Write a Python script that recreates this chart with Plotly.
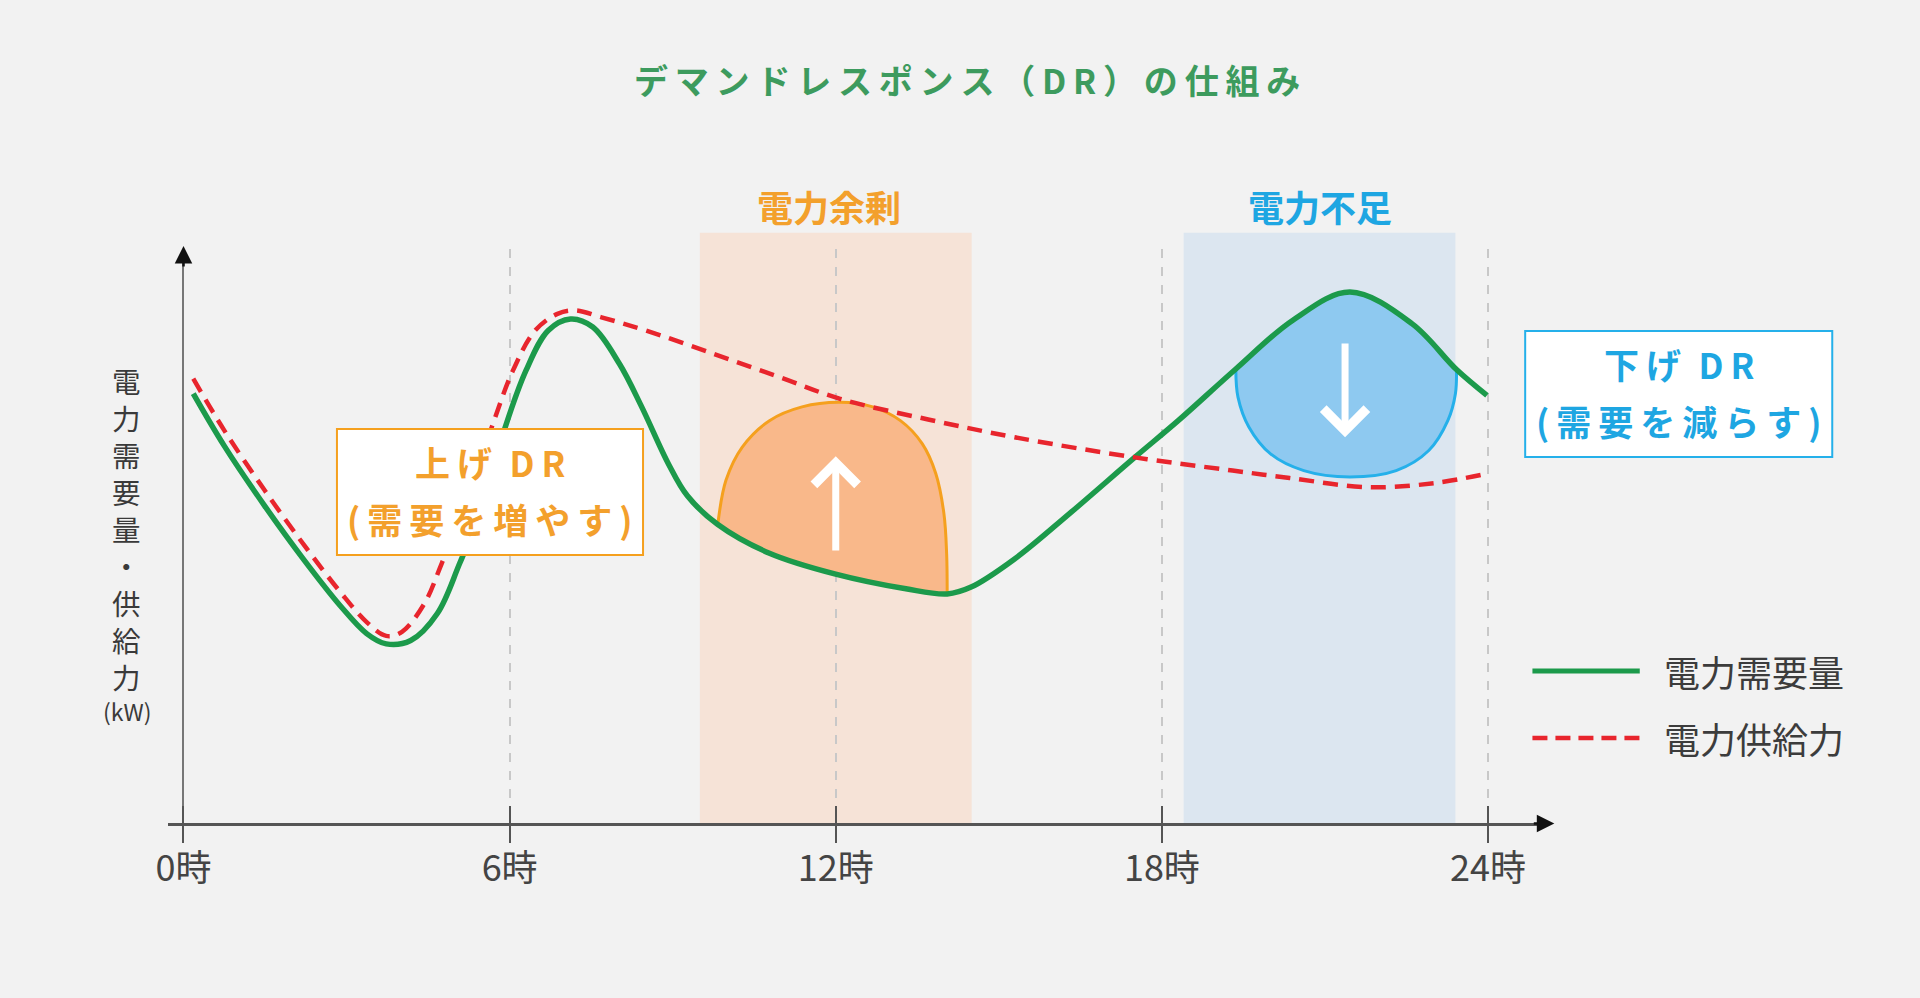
import plotly.graph_objects as go

W, H = 1920, 998
FONT = "Noto Sans CJK JP"

# ---------------- data ----------------
demand_hours = [0.18, 0.75, 1.49, 2.22, 2.88, 3.37, 3.73, 4.18, 4.67, 5.08, 5.49, 5.90, 6.30, 6.71,
                7.12, 7.53, 8.02, 8.43, 8.92, 9.27, 9.83, 10.78, 11.98, 13.29, 14.05, 14.49, 15.29,
                16.30, 17.50, 18.30, 19.36, 20.41, 21.46, 22.60, 23.42, 23.98]
demand = [74.8, 65.7, 55.3, 45.8, 37.9, 33.0, 31.2, 31.8, 36.5, 45.2, 55.0, 68.4, 78.8, 85.8,
          87.8, 86.4, 80.0, 72.5, 62.6, 57.0, 52.0, 47.0, 43.4, 40.8, 39.9, 41.1, 46.0,
          53.9, 63.7, 70.1, 79.1, 87.6, 92.5, 87.0, 79.0, 74.5]

supply_hours = [0.18, 0.75, 1.49, 2.22, 2.88, 3.37, 3.73, 4.02, 4.43, 4.75, 5.16, 5.65, 6.06, 6.47,
                6.88, 7.20, 7.69, 8.51, 9.73, 10.96, 12.08, 13.70, 15.29, 17.50, 19.30, 20.35,
                21.81, 23.00, 24.00]
supply = [77.4, 68.4, 58.0, 48.4, 40.3, 35.0, 32.6, 33.3, 38.2, 45.2, 55.0, 68.4, 78.8, 85.8,
          88.7, 89.3, 88.1, 85.8, 81.8, 77.7, 73.9, 70.3, 67.2, 63.7, 61.4, 60.1,
          58.5, 59.2, 60.9]

# upward DR (raise demand) dome, drawn above the demand curve
raise_dr_hours = [9.83, 9.98, 10.28, 10.78, 11.38, 12.08, 12.68, 13.19, 13.59, 13.84, 13.99, 14.04, 14.05]
raise_dr_values = [52.0, 59.7, 65.5, 70.1, 72.5, 73.3, 72.5, 70.1, 66.1, 60.9, 53.9, 46.9, 39.9]

# downward DR (reduce demand) bowl, drawn below the demand curve
lower_dr_hours = [19.36, 19.40, 19.60, 20.00, 20.61, 21.46, 22.31, 22.91, 23.26, 23.40, 23.42]
lower_dr_values = [79.1, 74.2, 69.0, 64.3, 61.4, 60.3, 61.4, 64.9, 70.1, 74.8, 79.0]

surplus_band = [9.5, 14.5]
shortage_band = [18.4, 23.4]

tick_vals = [0, 6, 12, 18, 24]
tick_text = ["0時", "6時", "12時", "18時", "24時"]

raise_arrow = {"x": 12.0, "tail": 47.2, "tip": 63.9}
lower_arrow = {"x": 21.37, "tail": 83.8, "tip": 67.2}

title_text = "デマンドレスポンス（DR）の仕組み"
y_label = "電力需要量・供給力"
y_unit = "(kW)"
legend_names = ["電力需要量", "電力供給力"]

# ---------------- colours ----------------
BG = "#f2f2f2"
GREEN = "#1c9a4b"
RED = "#e8252d"
ORANGE_BAND = "#f6e3d7"
BLUE_BAND = "#dce6f0"
ORANGE_FILL = "#f9b88a"
ORANGE_LINE = "#f5a01e"
ORANGE_TEXT = "#f3a02c"
BLUE_FILL = "#8ec9f0"
BLUE_LINE = "#25b0ea"
BLUE_TEXT = "#1ea6e2"
TITLE_GREEN = "#3d9b5e"

THIN = "\u2009"


def px(x):
    return x / W


def py(y):
    return 1 - y / H


def spaced(s, sep=THIN):
    return sep.join(s)


def segment(hours, values, lo, hi):
    pts = [(h, v) for h, v in zip(hours, values) if lo - 1e-9 <= h <= hi + 1e-9]
    return [p[0] for p in pts], [p[1] for p in pts]


fig = go.Figure()

# orange cap (raise demand)
bx, by = segment(demand_hours, demand, raise_dr_hours[0], raise_dr_hours[-1])
fig.add_trace(go.Scatter(x=bx, y=by, mode="lines", line=dict(width=0, shape="spline", color=ORANGE_FILL),
                         hoverinfo="skip", showlegend=False))
fig.add_trace(go.Scatter(x=raise_dr_hours, y=raise_dr_values, mode="lines", fill="tonexty",
                         fillcolor=ORANGE_FILL, line=dict(color=ORANGE_LINE, width=3, shape="spline"),
                         hoverinfo="skip", showlegend=False))

# blue cap (reduce demand)
tx, ty = segment(demand_hours, demand, lower_dr_hours[0], lower_dr_hours[-1])
fig.add_trace(go.Scatter(x=tx, y=ty, mode="lines", line=dict(width=0, shape="spline", color=BLUE_FILL),
                         hoverinfo="skip", showlegend=False))
fig.add_trace(go.Scatter(x=lower_dr_hours, y=lower_dr_values, mode="lines", fill="tonexty",
                         fillcolor=BLUE_FILL, line=dict(color=BLUE_LINE, width=3, shape="spline"),
                         hoverinfo="skip", showlegend=False))

# supply (dashed)
fig.add_trace(go.Scatter(x=supply_hours, y=supply, mode="lines", name=legend_names[1], xaxis="x2",
                         line=dict(color=RED, width=4.5, dash="15px,9px", shape="spline"),
                         showlegend=False))
# demand
fig.add_trace(go.Scatter(x=demand_hours, y=demand, mode="lines", name=legend_names[0],
                         line=dict(color=GREEN, width=5.5, shape="spline"), showlegend=False))

X0, X1 = 156.7, 1540
xrange = [-0.29, 25.0]

shapes = []
for band, col in ((surplus_band, ORANGE_BAND), (shortage_band, BLUE_BAND)):
    shapes.append(dict(type="rect", xref="x", yref="paper", x0=band[0], x1=band[1],
                       y0=py(826), y1=py(232.7), fillcolor=col, line=dict(width=0), layer="between"))

# text boxes
boxes = [
    dict(x0=327, x1=635, y0=429, y1=555, color=ORANGE_LINE, text=ORANGE_TEXT,
         lines=[spaced("上げ") + "\u2002" + spaced("DR"), spaced("(需要を増やす)")]),
    dict(x0=1522.7, x1=1831.7, y0=331, y1=457, color=BLUE_LINE, text=BLUE_TEXT,
         lines=[spaced("下げ") + "\u2002" + spaced("DR"), spaced("(需要を減らす)")]),
]
annotations = []
for b in boxes:
    shapes.append(dict(type="rect", xref="paper", yref="paper", x0=px(b["x0"]), x1=px(b["x1"]),
                       y0=py(b["y1"]), y1=py(b["y0"]), fillcolor="white",
                       line=dict(color=b["color"], width=2), layer="above"))
    cx = (b["x0"] + b["x1"]) / 2
    for txt, dy in zip(b["lines"], (32, 89)):
        annotations.append(dict(x=px(cx), y=py(b["y0"] + dy), xref="paper", yref="paper",
                                text=txt, showarrow=False, xanchor="center", yanchor="middle",
                                font=dict(family=FONT, size=35, color=b["text"], weight=700)))

# legend (manual)
for name, yy, col, dash in ((legend_names[0], 671, GREEN, "solid"), (legend_names[1], 738, RED, "15px,8px")):
    shapes.append(dict(type="line", xref="paper", yref="paper", x0=px(1530), x1=px(1638),
                       y0=py(yy), y1=py(yy), line=dict(color=col, width=5 if dash == "solid" else 4.5, dash=dash)))
    annotations.append(dict(x=px(1660), y=py(yy), xref="paper", yref="paper", text=name,
                            showarrow=False, xanchor="left", yanchor="middle",
                            font=dict(family=FONT, size=36, color="#3c3c3c")))

# title
annotations.append(dict(x=px(961.5), y=py(80), xref="paper", yref="paper", text=spaced(title_text),
                        showarrow=False, xanchor="center", yanchor="middle",
                        font=dict(family=FONT, size=34, color=TITLE_GREEN, weight=700)))
# band labels
annotations.append(dict(x=px(822.5), y=py(206), xref="paper", yref="paper", text="電力余剰",
                        showarrow=False, xanchor="center", yanchor="middle",
                        font=dict(family=FONT, size=36, color=ORANGE_TEXT, weight=700)))
annotations.append(dict(x=px(1316.5), y=py(206), xref="paper", yref="paper", text="電力不足",
                        showarrow=False, xanchor="center", yanchor="middle",
                        font=dict(family=FONT, size=36, color=BLUE_TEXT, weight=700)))

# vertical y-axis label: one text block, one character per line
annotations.append(dict(x=px(115.7), y=py(528), xref="paper", yref="paper", text="<br>".join(y_label),
                        showarrow=False, xanchor="center", yanchor="middle",
                        font=dict(family=FONT, size=28.5, color="#3a3a3a")))
annotations.append(dict(x=px(115.7), y=py(711), xref="paper", yref="paper", text=y_unit,
                        showarrow=False, xanchor="center", yanchor="middle",
                        font=dict(family=FONT, size=23, color="#3a3a3a")))

# white DR arrows
for a in (raise_arrow, lower_arrow):
    annotations.append(dict(x=a["x"], y=a["tip"], ax=a["x"], ay=a["tail"], xref="x", yref="y",
                            axref="x", ayref="y", text="", showarrow=True, arrowhead=4,
                            arrowsize=1.2, arrowwidth=7, arrowcolor="white", standoff=0))

# axis arrowheads
annotations.append(dict(x=px(1552), y=py(823.5), xref="paper", yref="paper", ax=-22, ay=0, text="",
                        showarrow=True, arrowhead=2, arrowsize=1.4, arrowwidth=2.5, arrowcolor="#111"))
annotations.append(dict(x=px(172.6), y=py(246), xref="paper", yref="paper", ax=0, ay=22, text="",
                        showarrow=True, arrowhead=2, arrowsize=1.4, arrowwidth=2.5, arrowcolor="#111"))

fig.update_layout(
    width=W, height=H,
    margin=dict(l=0, r=0, t=0, b=0),
    paper_bgcolor=BG, plot_bgcolor=BG,
    showlegend=False,
    shapes=shapes,
    annotations=annotations,
    xaxis=dict(domain=[px(X0), px(X1)], range=xrange, tickvals=tick_vals, ticktext=tick_text,
               ticks="outside", ticklen=17, tickwidth=2, tickcolor="#555",
               showline=True, linecolor="#555", linewidth=3,
               showgrid=True, gridcolor="#c8c8c8", griddash="dash", gridwidth=1.5,
               zeroline=True, zerolinecolor="#777", zerolinewidth=2,
               ticklabelstandoff=-5,
               tickfont=dict(family=FONT, size=36, color="#444"), fixedrange=True),
    xaxis2=dict(domain=[px(X0), px(X1)], range=xrange, overlaying="x", anchor="y", side="bottom",
                tickvals=tick_vals, ticks="inside", ticklen=17, tickwidth=2, tickcolor="#555",
                showticklabels=False, showgrid=False, showline=False, zeroline=False, fixedrange=True),
    yaxis=dict(domain=[py(823), py(249)], range=[0, 100], showgrid=False, zeroline=False,
               showticklabels=False, ticks="", showline=False, fixedrange=True),
)

fig.write_html("out.html")
